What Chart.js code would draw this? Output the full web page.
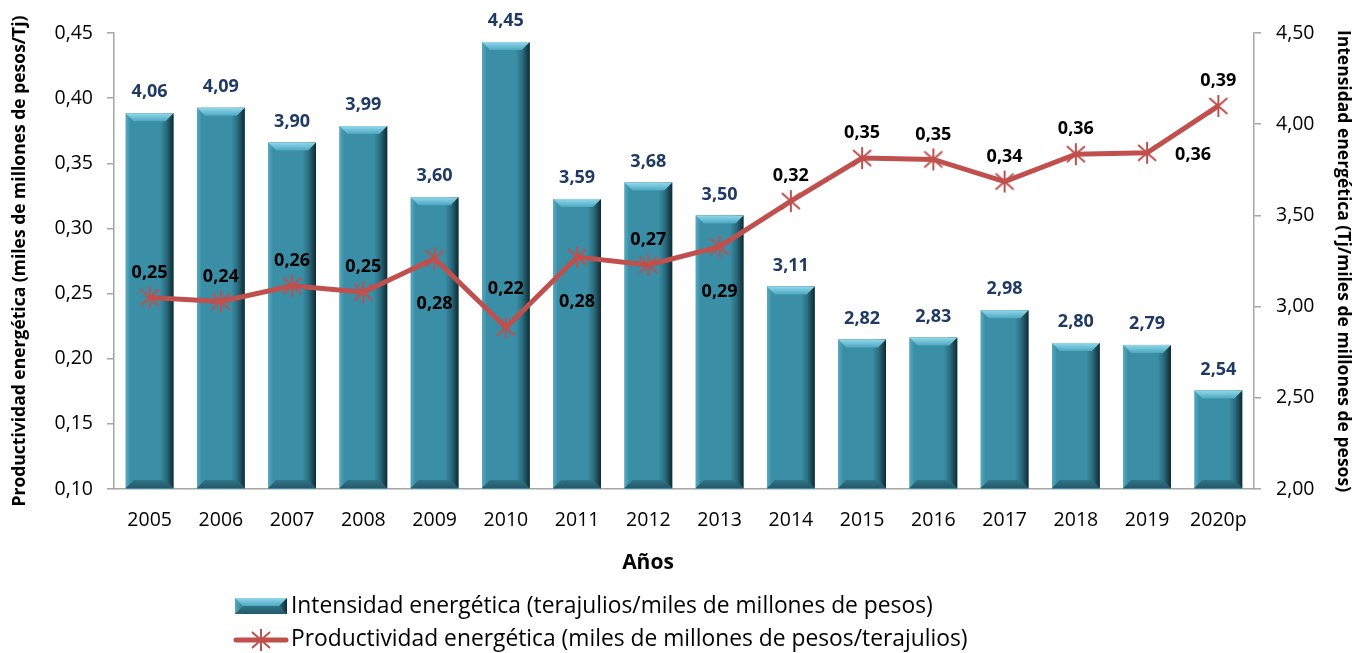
<!DOCTYPE html>
<html>
<head>
<meta charset="utf-8">
<script src="https://cdn.jsdelivr.net/npm/chart.js@4.4.0/dist/chart.umd.min.js"></script>
<style>
  html, body { margin: 0; padding: 0; background: #fff; }
  canvas { display: block; }
</style>
</head>
<body>
<canvas id="energyChart" width="1362" height="653"></canvas>
<script>
const years = ['2005', '2006', '2007', '2008', '2009', '2010', '2011', '2012',
               '2013', '2014', '2015', '2016', '2017', '2018', '2019', '2020p'];

// Intensidad energetica (Tj / miles de millones de pesos) - right axis
const intensity = [4.06, 4.09, 3.90, 3.99, 3.60, 4.45, 3.59, 3.68,
                   3.50, 3.11, 2.82, 2.83, 2.98, 2.80, 2.79, 2.54];

// Productividad energetica (miles de millones de pesos / Tj) - left axis
const productivity = [0.247, 0.244, 0.256, 0.251, 0.277, 0.224, 0.278, 0.272,
                      0.286, 0.321, 0.354, 0.353, 0.336, 0.357, 0.358, 0.394];

// where the line's value label sits
const lineLabelPos = ['above', 'above', 'above', 'above', 'below', 'high', 'below', 'above',
                      'below', 'above', 'above', 'above', 'above', 'above', 'right', 'above'];

const leftTicks = [0.10, 0.15, 0.20, 0.25, 0.30, 0.35, 0.40, 0.45];
const rightTicks = [2.00, 2.50, 3.00, 3.50, 4.00, 4.50];

const RED = '#C0504D';
const TEAL = '#3A8EA6';
const FONT = "'Open Sans', 'Noto Sans', sans-serif";

const fmt = (v) => v.toFixed(2).replace('.', ',');

// asterisk marker like the excel one
const makeStar = () => {
    const c = document.createElement('canvas');
    c.width = 24;
    c.height = 24;
    const g = c.getContext('2d');
    g.strokeStyle = RED;
    g.lineWidth = 2;
    g.beginPath();
    g.moveTo(12, 1); g.lineTo(12, 23);
    g.moveTo(3, 4); g.lineTo(21, 20);
    g.moveTo(21, 4); g.lineTo(3, 20);
    g.stroke();
    return c;
};
const starImg = makeStar();

// bevelled bar look
const paintBar = (ctx, left, top, right, bottom) => {
    const w = right - left;
    const b = Math.min(8, (bottom - top) / 2);
    const hg = ctx.createLinearGradient(left, 0, right, 0);
    hg.addColorStop(0, '#55A9C0');
    hg.addColorStop(0.1, TEAL);
    hg.addColorStop(0.72, TEAL);
    hg.addColorStop(0.85, '#2A6B7D');
    hg.addColorStop(1, '#0E2A33');
    ctx.fillStyle = hg;
    ctx.fillRect(left, top, w, bottom - top);

    const tg = ctx.createLinearGradient(0, top, 0, top + b);
    tg.addColorStop(0, '#93D8EA');
    tg.addColorStop(1, '#4DA8C1');
    ctx.fillStyle = tg;
    ctx.beginPath();
    ctx.moveTo(left, top);
    ctx.lineTo(right, top);
    ctx.lineTo(right - b, top + b);
    ctx.lineTo(left + b, top + b);
    ctx.closePath();
    ctx.fill();

    const bg = ctx.createLinearGradient(0, bottom - b, 0, bottom);
    bg.addColorStop(0, '#2F7487');
    bg.addColorStop(1, '#24596A');
    ctx.fillStyle = bg;
    ctx.beginPath();
    ctx.moveTo(left, bottom);
    ctx.lineTo(right, bottom);
    ctx.lineTo(right - b, bottom - b);
    ctx.lineTo(left + b, bottom - b);
    ctx.closePath();
    ctx.fill();
};

const bevelPlugin = {
    id: 'bevel',
    afterDatasetDraw(chart, args) {
        if (chart.data.datasets[args.index].type !== 'bar') return;
        const ctx = chart.ctx;
        const floor = chart.chartArea.bottom - 1;
        ctx.save();
        args.meta.data.forEach((el) => {
            const { x, y, width, base } = el.getProps(['x', 'y', 'width', 'base'], true);
            paintBar(ctx, x - width / 2, y, x + width / 2, Math.min(base, floor));
        });
        ctx.restore();
    }
};

const labelPlugin = {
    id: 'valueLabels',
    afterDatasetsDraw(chart) {
        const ctx = chart.ctx;
        ctx.save();
        ctx.textAlign = 'center';
        ctx.textBaseline = 'middle';

        const barMeta = chart.getDatasetMeta(1);
        ctx.fillStyle = '#1F3A64';
        ctx.font = `bold 18px ${FONT}`;
        barMeta.data.forEach((el, i) => {
            ctx.fillText(fmt(intensity[i]), el.x, el.y - 21);
        });

        const lineMeta = chart.getDatasetMeta(0);
        ctx.fillStyle = '#000';
        lineMeta.data.forEach((el, i) => {
            let dx = 0, dy = -25;
            if (lineLabelPos[i] === 'below') dy = 45;
            if (lineLabelPos[i] === 'high') dy = -39;
            if (lineLabelPos[i] === 'right') { dx = 46; dy = 2; }
            ctx.fillText(fmt(productivity[i]), el.x + dx, el.y + dy);
        });
        ctx.restore();
    }
};

// "Años" and the legend below the chart
const footerPlugin = {
    id: 'footer',
    afterDraw(chart) {
        const ctx = chart.ctx;
        ctx.save();
        ctx.fillStyle = '#000';
        ctx.textAlign = 'center';
        ctx.textBaseline = 'alphabetic';
        ctx.font = `bold 21px ${FONT}`;
        ctx.fillText('Años', 648, 569);

        ctx.textAlign = 'left';
        ctx.textBaseline = 'middle';
        ctx.font = `22.8px ${FONT}`;
        paintBar(ctx, 235, 598, 287, 614);
        ctx.fillStyle = '#000';
        ctx.fillText(chart.data.datasets[1].label, 291, 607);

        ctx.strokeStyle = RED;
        ctx.lineWidth = 5;
        ctx.lineCap = 'round';
        ctx.beginPath();
        ctx.moveTo(236, 640);
        ctx.lineTo(286, 640);
        ctx.stroke();
        ctx.drawImage(starImg, 261 - 12, 640 - 12);
        ctx.fillStyle = '#000';
        ctx.fillText(chart.data.datasets[0].label, 291, 640);
        ctx.restore();
    }
};

const ctx = document.getElementById('energyChart').getContext('2d');

const energyChart = new Chart(ctx, {
    data: {
        labels: years,
        datasets: [{
            type: 'line',
            label: 'Productividad energética (miles de millones de pesos/terajulios)',
            data: productivity,
            yAxisID: 'yLeft',
            borderColor: RED,
            borderWidth: 5,
            pointStyle: starImg,
            pointRadius: 10,
            tension: 0,
            order: 0
        }, {
            type: 'bar',
            label: 'Intensidad energética (terajulios/miles de millones de pesos)',
            data: intensity,
            yAxisID: 'yRight',
            backgroundColor: TEAL,
            categoryPercentage: 1,
            barPercentage: 0.67,
            order: 1
        }]
    },
    options: {
        responsive: false,
        animation: false,
        layout: {
            padding: { top: 33, bottom: 114, left: 0, right: 0 }
        },
        plugins: {
            legend: { display: false },
            tooltip: { enabled: false }
        },
        scales: {
            x: {
                grid: { display: false, drawTicks: false },
                border: { display: true, color: '#A6A6A6', width: 1.5 },
                ticks: {
                    color: '#000',
                    font: { family: FONT, size: 19.5 },
                    padding: 20,
                    maxRotation: 0
                },
                afterFit: (scale) => { scale.height = 50; }
            },
            yLeft: {
                position: 'left',
                min: 0.10,
                max: 0.45,
                afterBuildTicks: (scale) => { scale.ticks = leftTicks.map(v => ({ value: v })); },
                grid: { drawOnChartArea: false, tickLength: 7, color: '#A6A6A6', lineWidth: 1.5 },
                border: { color: '#A6A6A6', width: 1.5 },
                ticks: {
                    color: '#000',
                    font: { family: FONT, size: 19.5 },
                    padding: 14,
                    callback: (v) => fmt(v)
                },
                title: {
                    display: true,
                    text: 'Productividad energética (miles de millones de pesos/Tj)',
                    color: '#000',
                    font: { family: FONT, size: 17.5, weight: 'bold' },
                    padding: { top: 10, bottom: 0 }
                },
                afterFit: (scale) => { scale.width = 114; }
            },
            yRight: {
                position: 'right',
                min: 2.00,
                max: 4.50,
                afterBuildTicks: (scale) => { scale.ticks = rightTicks.map(v => ({ value: v })); },
                grid: { drawOnChartArea: false, tickLength: 7, color: '#A6A6A6', lineWidth: 1.5 },
                border: { color: '#A6A6A6', width: 1.5 },
                ticks: {
                    color: '#000',
                    font: { family: FONT, size: 19.5 },
                    padding: 15,
                    callback: (v) => fmt(v)
                },
                title: {
                    display: true,
                    text: 'Intensidad energética (Tj/miles de millones de pesos)',
                    color: '#000',
                    font: { family: FONT, size: 17.5, weight: 'bold' },
                    padding: { top: 9, bottom: 0 }
                },
                afterFit: (scale) => { scale.width = 108; }
            }
        }
    },
    plugins: [bevelPlugin, labelPlugin, footerPlugin]
});
</script>
</body>
</html>
